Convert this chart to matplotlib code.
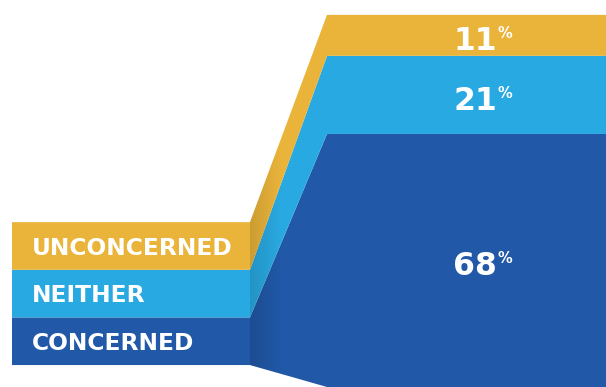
import numpy as np
import matplotlib.pyplot as plt
from matplotlib.patches import Polygon
from matplotlib.colors import LinearSegmentedColormap

# -----------------------------
# Data
# -----------------------------
categories = ["CONCERNED", "NEITHER", "UNCONCERNED"]
values = [68, 21, 11]
colors = ["#2158A7", "#29A9E1", "#EAB43A"]

# layout: x in pixels, y in % of the big bar
x_left0, x_left1 = 12, 250
x_right0, x_right1 = 327, 620
legend_base = 5.9
legend_step = 12.8
num_x = 475

fig = plt.figure(figsize=(6.06, 3.87), dpi=100)
ax = fig.add_axes([0, 0, 1, 1])
ax.set_xlim(0, 606)
ax.set_ylim(0, 104.0)
ax.axis("off")

tops = np.cumsum(values)
bottoms = tops - np.array(values)

font = dict(family="DejaVu Sans", fontweight="bold", color="white")

# -----------------------------
# Bands
# -----------------------------
for i, cat in enumerate(categories):
    lb = legend_base + i * legend_step
    lt = lb + legend_step
    poly = [(x_left0, lb), (x_left1, lb), (x_right0, bottoms[i]),
            (x_right1, bottoms[i]), (x_right1, tops[i]), (x_right0, tops[i]),
            (x_left1, lt), (x_left0, lt)]
    ax.add_patch(Polygon(poly, closed=True, facecolor=colors[i],
                         edgecolor="none"))

    ax.annotate(cat, (32, (lb + lt) / 2), xytext=(0, -6.3),
                textcoords="offset points", ha="left", va="baseline",
                fontsize=16.8, **font)

# soft shadow at the fold
legend_top = legend_base + len(values) * legend_step
fold = Polygon([(x_left1, legend_base), (x_left1, legend_top),
                (x_right0, tops[-1]), (x_right0, 0)],
               closed=True, facecolor="none", edgecolor="none")
ax.add_patch(fold)
shade = LinearSegmentedColormap.from_list(
    "shade", [(0, 0, 0, 0.13), (0, 0, 0, 0.0)])
grad = np.linspace(0, 1, 64).reshape(1, -1)
im = ax.imshow(grad, cmap=shade, extent=(x_left1, x_left1 + 32, 0, 104),
               aspect="auto", interpolation="bilinear", zorder=1.5)
im.set_clip_path(fold)

# -----------------------------
# Percent labels
# -----------------------------
renderer = fig.canvas.get_renderer()
for i, v in enumerate(values):
    yc = (bottoms[i] + tops[i]) / 2
    t = ax.annotate(str(v), (num_x, yc), xytext=(0, -10.8),
                    textcoords="offset points", ha="center", va="baseline",
                    fontsize=22.7, zorder=3, **font)
    bb = t.get_window_extent(renderer)
    x_end = ax.transData.inverted().transform((bb.x1, 0))[0]
    ax.annotate("%", (x_end, yc), xytext=(0.3, -10.8 + 8.9),
                textcoords="offset points", ha="left", va="baseline",
                fontsize=10.5, zorder=3, **font)

ax.set_xlim(0, 606)
ax.set_ylim(0, 104.0)

fig.savefig("out.png", dpi=100)
